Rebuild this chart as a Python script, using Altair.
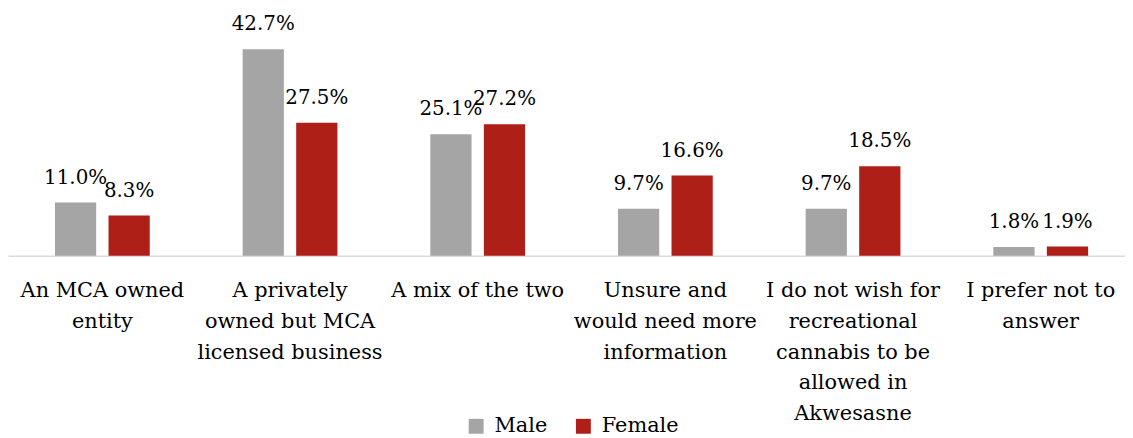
import altair as alt
import pandas as pd

categories = [
    "An MCA owned|entity",
    "A privately|owned but MCA|licensed business",
    "A mix of the two",
    "Unsure and|would need more|information",
    "I do not wish for|recreational|cannabis to be|allowed in|Akwesasne",
    "I prefer not to|answer",
]
male = [11.0, 42.7, 25.1, 9.7, 9.7, 1.8]
female = [8.3, 27.5, 27.2, 16.6, 18.5, 1.9]
series = ["Male", "Female"]
colors = ["#A5A5A5", "#AE1F17"]

rows = []
for c, m, f in zip(categories, male, female):
    rows.append({"cat": c, "gender": "Male", "value": m})
    rows.append({"cat": c, "gender": "Female", "value": f})
df = pd.DataFrame(rows)
df["label"] = df["value"].map(lambda v: f"{v:.1f}%")

FONT = "DejaVu Serif"
FS = 21

base = alt.Chart(df).encode(
    x=alt.X("cat:N", sort=categories,
            scale=alt.Scale(paddingInner=0.495, paddingOuter=0.2235, align=0.56),
            axis=alt.Axis(title=None, labelAngle=0, ticks=False,
                          domainColor="#D9D9D9", domainWidth=1.5,
                          labelFont=FONT, labelFontSize=FS, labelColor="#000000",
                          labelLineHeight=31, labelPadding=24, labelLimit=400,
                          labelExpr="split(datum.label, '|')")),
    xOffset=alt.XOffset("gender:N", sort=series,
                        scale=alt.Scale(paddingInner=0.23, paddingOuter=0)),
    y=alt.Y("value:Q", scale=alt.Scale(domain=[0, 50.9], nice=False),
            axis=None),
)

bars = base.mark_bar().encode(
    color=alt.Color("gender:N", sort=series,
                    scale=alt.Scale(domain=series, range=colors),
                    legend=alt.Legend(title=None, orient="none", direction="horizontal",
                                      legendX=461, legendY=409,
                                      symbolType="square", symbolSize=225,
                                      symbolStrokeWidth=0,
                                      labelFont=FONT, labelFontSize=FS,
                                      labelColor="#000000", columnPadding=25,
                                      labelOffset=8)),
)

text = base.mark_text(baseline="alphabetic", dy=-19, font=FONT, fontSize=20,
                      color="#000000").encode(text="label:N")

chart = (bars + text).properties(
    width=1125, height=248, padding=0
).configure_view(stroke=None)

chart.save("out.html", embed_options={"renderer": "svg", "actions": False})
